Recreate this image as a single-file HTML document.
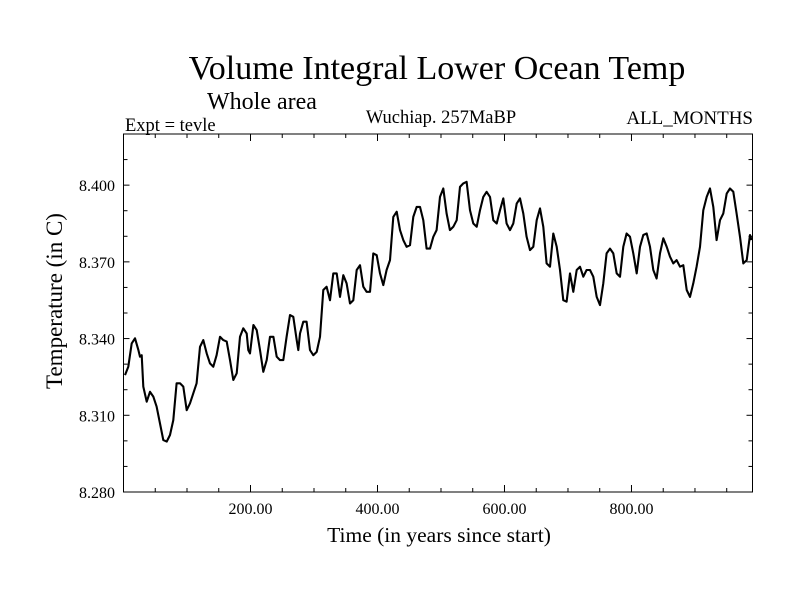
<!DOCTYPE html>
<html><head><meta charset="utf-8"><style>
body{margin:0;background:#fff}
svg{display:block}
text{font-family:"Liberation Serif",serif;fill:#000}
</style></head><body>
<svg id="chart" width="800" height="600" viewBox="0 0 800 600">
<rect width="800" height="600" fill="#fff"/>
<text x="437" y="79" font-size="34" text-anchor="middle">Volume Integral Lower Ocean Temp</text>
<text x="207" y="109" font-size="24">Whole area</text>
<text x="125" y="131" font-size="18.5">Expt = tevle</text>
<text x="441" y="123" font-size="18.5" text-anchor="middle">Wuchiap. 257MaBP</text>
<text x="753" y="124" font-size="19" text-anchor="end">ALL_MONTHS</text>
<text transform="translate(62,301) rotate(-90)" font-size="23" text-anchor="middle">Temperature (in C)</text>
<text x="439" y="542" font-size="21.5" text-anchor="middle">Time (in years since start)</text>
<g id="axes"></g>
<path id="series" fill="none" stroke="#000" stroke-width="2.1" stroke-linejoin="round"/>
<rect x="123.5" y="134" width="629" height="358" fill="none" stroke="#000" stroke-width="1"/>
</svg>
<script>
const years=[2.4,7.6,12.9,18.1,23.4,26.0,28.6,31.2,36.5,41.7,47.0,52.2,57.5,62.7,68.0,73.2,78.5,83.7,89.0,94.2,99.5,104.7,110.0,115.2,120.5,125.7,131.0,136.2,141.5,146.7,152.0,157.2,162.5,167.7,173.0,178.2,183.5,188.7,194.0,196.6,199.2,204.5,209.7,215.0,220.2,225.5,230.7,236.0,241.2,246.4,251.7,256.9,262.2,267.4,272.7,275.3,277.9,283.2,288.4,293.7,298.9,304.2,309.4,314.7,319.9,325.2,330.4,335.7,340.9,346.2,351.4,356.7,361.9,367.2,372.4,377.7,382.9,388.2,393.4,398.7,403.9,409.2,414.4,419.7,424.9,430.2,435.4,440.7,445.9,451.2,456.4,461.7,466.9,472.2,477.4,482.7,487.9,493.1,498.4,503.6,508.9,514.1,519.4,524.7,529.9,535.2,540.4,545.7,550.9,556.2,561.4,566.7,571.9,577.2,582.4,587.7,592.9,598.2,603.4,608.7,613.9,619.2,624.4,629.7,634.9,640.2,645.4,650.7,655.9,661.2,666.4,671.7,676.9,682.2,687.4,692.7,697.9,703.2,708.4,713.7,718.9,724.2,729.4,734.7,739.9,745.2,750.4,755.7,760.9,766.2,771.4,776.7,781.9,787.2,792.4,797.7,802.9,808.2,813.4,818.7,823.9,829.1,834.4,839.6,844.9,850.1,855.4,860.6,865.9,871.1,876.4,881.6,886.9,892.1,897.4,902.6,907.9,913.1,918.4,923.6,928.9,934.1,939.4,944.6,949.9,955.1,960.4,965.6,970.9,976.1,981.4,986.6,989.2];
const temps=[8.3257,8.3290,8.3381,8.3401,8.3355,8.3329,8.3335,8.3212,8.3153,8.3192,8.3173,8.3134,8.3068,8.3003,8.2997,8.3023,8.3081,8.3225,8.3225,8.3212,8.3120,8.3147,8.3186,8.3225,8.3368,8.3394,8.3342,8.3303,8.3290,8.3335,8.3407,8.3394,8.3388,8.3316,8.3238,8.3264,8.3407,8.3440,8.3420,8.3355,8.3342,8.3453,8.3433,8.3355,8.3270,8.3316,8.3407,8.3407,8.3329,8.3316,8.3316,8.3407,8.3492,8.3485,8.3394,8.3355,8.3420,8.3466,8.3466,8.3355,8.3335,8.3348,8.3407,8.3590,8.3603,8.3550,8.3655,8.3655,8.3563,8.3648,8.3616,8.3537,8.3550,8.3668,8.3687,8.3603,8.3583,8.3583,8.3733,8.3726,8.3655,8.3609,8.3668,8.3707,8.3876,8.3896,8.3824,8.3785,8.3759,8.3765,8.3876,8.3915,8.3915,8.3863,8.3752,8.3752,8.3798,8.3824,8.3954,8.3987,8.3889,8.3824,8.3837,8.3863,8.3993,8.4007,8.4013,8.3902,8.3850,8.3837,8.3902,8.3954,8.3974,8.3954,8.3863,8.3850,8.3902,8.3948,8.3850,8.3824,8.3850,8.3928,8.3948,8.3889,8.3798,8.3746,8.3759,8.3863,8.3909,8.3837,8.3694,8.3681,8.3811,8.3759,8.3668,8.3550,8.3544,8.3655,8.3583,8.3668,8.3681,8.3642,8.3668,8.3668,8.3642,8.3563,8.3531,8.3616,8.3733,8.3752,8.3733,8.3655,8.3642,8.3759,8.3811,8.3798,8.3733,8.3655,8.3759,8.3805,8.3811,8.3759,8.3668,8.3635,8.3733,8.3792,8.3759,8.3720,8.3694,8.3707,8.3681,8.3687,8.3590,8.3563,8.3616,8.3681,8.3759,8.3902,8.3954,8.3987,8.3915,8.3785,8.3863,8.3889,8.3967,8.3987,8.3974,8.3889,8.3798,8.3694,8.3707,8.3805,8.3785];
const yTickValues=[8.28,8.31,8.34,8.37,8.40];
const yTickLabels=["8.280","8.310","8.340","8.370","8.400"];
const xTickValues=[200,400,600,800];
const xTickLabels=["200.00","400.00","600.00","800.00"];

const X0=123.5,X1=752.5,Y0=492,Y1=134,XMIN=0,XMAX=990.6,YMIN=8.28,YMAX=8.42;
function sx(v){return X0+(v-XMIN)/(XMAX-XMIN)*(X1-X0);}
function sy(v){return Y0-(v-YMIN)/(YMAX-YMIN)*(Y0-Y1);}
const NS="http://www.w3.org/2000/svg";
const axes=document.getElementById('axes');
function line(x1,y1,x2,y2,name){
  const l=document.createElementNS(NS,'line');
  l.setAttribute('x1',x1);l.setAttribute('y1',y1);l.setAttribute('x2',x2);l.setAttribute('y2',y2);
  l.setAttribute('stroke','#000');l.setAttribute('stroke-width','1');
  
  
  axes.appendChild(l);
}
function label(x,y,t,anchor,name){
  const e=document.createElementNS(NS,'text');
  e.setAttribute('x',x);e.setAttribute('y',y);e.setAttribute('font-size','16');e.setAttribute('text-anchor',anchor);
  e.textContent=t;
  
  
  axes.appendChild(e);
}
for(let k=0;k<=14;k++){
  const v=YMIN+k*0.01, y=sy(v), major=(k%3===0);
  const len=major?6:4;
  line(X0,y,X0+len,y,'y-tick');
  line(X1,y,X1-len,y,'y-tick-right');
}
yTickValues.forEach((v,i)=>label(115,sy(v)+6,yTickLabels[i],'end','y-tick-label'));
for(let yr=50;yr<XMAX;yr+=50){
  const x=sx(yr), major=(yr%200===0);
  const len=major?7:4;
  line(x,Y0,x,Y0-len,'x-tick');
  line(x,Y1,x,Y1+len,'x-tick-top');
}
xTickValues.forEach((v,i)=>label(sx(v),514,xTickLabels[i],'middle','x-tick-label'));
let d='';
years.forEach((yr,i)=>{d+=(i?'L':'M')+sx(yr).toFixed(1)+','+sy(temps[i]).toFixed(1);});
document.getElementById('series').setAttribute('d',d);
</script>
</body></html>
